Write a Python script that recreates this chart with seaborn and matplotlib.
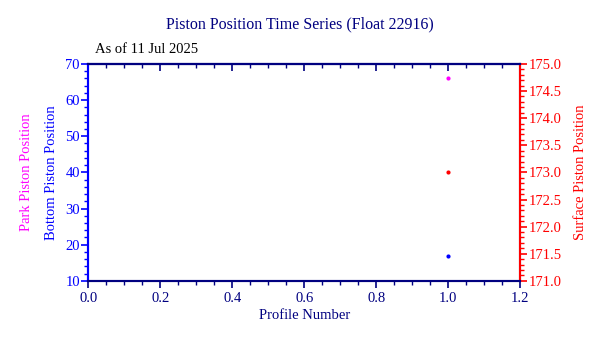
import matplotlib
matplotlib.use("Agg")
import matplotlib.pyplot as plt
import seaborn as sns
import pandas as pd
from matplotlib.ticker import MultipleLocator, FormatStrFormatter

sns.set_theme(style="white")
plt.rcParams['font.family'] = ['Liberation Serif', 'DejaVu Serif']

profiles = [1]
park_pos = [66]
bottom_pos = [17]
surface_pos = [173.0]

df = pd.DataFrame({"profile": profiles, "park": park_pos, "bottom": bottom_pos, "surface": surface_pos})

navy = "#000080"
fig = plt.figure(figsize=(6, 3.38), dpi=100)
ax = fig.add_axes([0.147, 0.169, 0.72, 0.642])
ax2 = ax.twinx()

sns.scatterplot(data=df, x="profile", y="park", ax=ax, color="magenta", s=9, linewidth=0, zorder=5)
sns.scatterplot(data=df, x="profile", y="bottom", ax=ax, color="blue", s=9, linewidth=0, zorder=5)
sns.scatterplot(data=df, x="profile", y="surface", ax=ax2, color="red", s=9, linewidth=0, zorder=5)

ax.set_xlim(0, 1.2)
ax.set_ylim(10, 70)
ax2.set_ylim(171.0, 175.0)

ax.xaxis.set_major_locator(MultipleLocator(0.2))
ax.xaxis.set_minor_locator(MultipleLocator(0.05))
ax.xaxis.set_major_formatter(FormatStrFormatter('%.1f'))
ax.yaxis.set_major_locator(MultipleLocator(10))
ax.yaxis.set_minor_locator(MultipleLocator(2))
ax2.yaxis.set_major_locator(MultipleLocator(0.5))
ax2.yaxis.set_minor_locator(MultipleLocator(0.1))
ax2.yaxis.set_major_formatter(FormatStrFormatter('%.1f'))

# top axis with inward ticks
top = ax.secondary_xaxis('top')
top.xaxis.set_major_locator(MultipleLocator(0.2))
top.xaxis.set_minor_locator(MultipleLocator(0.05))
top.tick_params(axis='x', which='both', direction='in', colors=navy, labeltop=False)
top.tick_params(axis='x', which='major', length=5, width=1.2)
top.tick_params(axis='x', which='minor', length=3, width=1)
top.spines['top'].set_color(navy)
top.spines['top'].set_linewidth(1.5)

for a in (ax, ax2):
    for s in a.spines.values():
        s.set_color(navy)
        s.set_linewidth(1.5)
ax.spines['left'].set_color('blue')
ax2.spines['left'].set_color('blue')
ax2.spines['right'].set_color('red')

ax.tick_params(axis='x', which='both', colors=navy, labelsize=10.5, top=False, bottom=True, direction='out', pad=3)
ax.tick_params(axis='x', which='major', length=5, width=1.2)
ax.tick_params(axis='x', which='minor', length=3, width=1)
ax.tick_params(axis='y', which='both', colors='blue', labelsize=10.5, direction='out', left=True)
ax.tick_params(axis='y', which='major', length=5, width=1.2, pad=1)
ax.tick_params(axis='y', which='minor', length=3, width=1)
ax2.tick_params(axis='y', which='both', colors='red', labelsize=10.5, direction='out', right=True)
ax2.tick_params(axis='y', which='major', length=5, width=1.2, pad=1)
ax2.tick_params(axis='y', which='minor', length=3, width=1)

ax.set_xlabel("Profile Number", color=navy, fontsize=10.5, labelpad=3)
ax.set_ylabel("Bottom Piston Position", color='blue', fontsize=10.5, labelpad=5)
ax2.set_ylabel("Surface Piston Position", color='red', fontsize=10.5, labelpad=9)
fig.text(0.045, 0.49, "Park Piston Position", color='magenta', fontsize=10.5, rotation=90, ha='center', va='center')

fig.text(0.5, 0.927, "Piston Position Time Series (Float 22916)", color=navy, fontsize=11.5, ha='center', va='center')
fig.text(0.158, 0.855, "As of 11 Jul 2025", color='black', fontsize=10.5, ha='left', va='center')

fig.savefig("out.png", dpi=100)
